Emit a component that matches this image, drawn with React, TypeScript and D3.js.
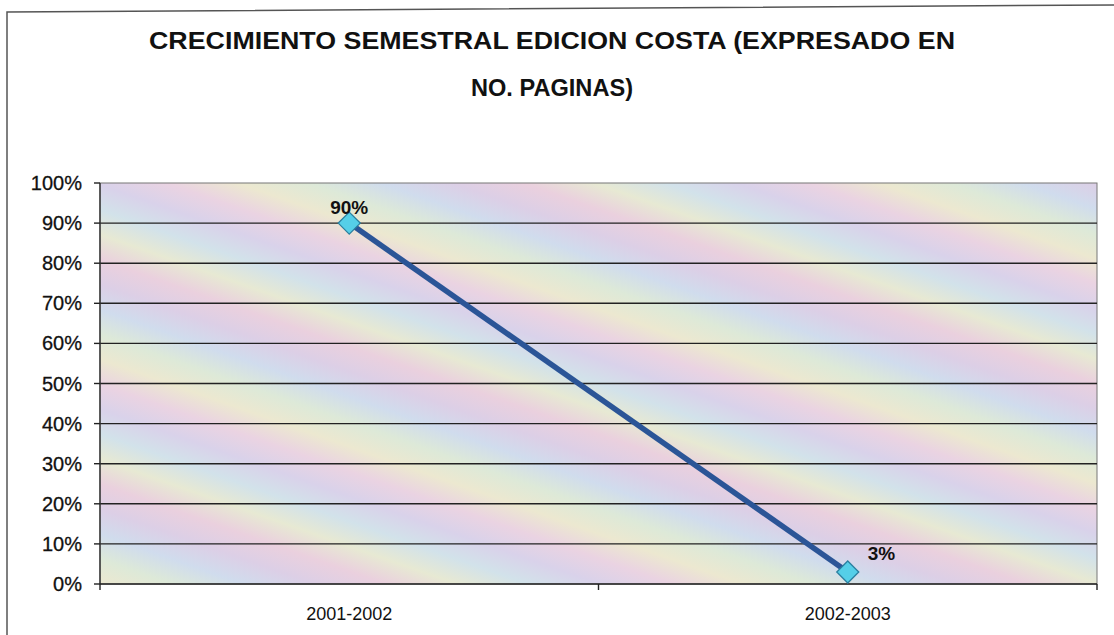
import React from "react";
import * as d3 from "d3";

const categories: string[] = ["2001-2002", "2002-2003"];
const values: number[] = [0.9, 0.03];
const dataLabels: string[] = ["90%", "3%"];
const yTicks: number[] = [0, 0.1, 0.2, 0.3, 0.4, 0.5, 0.6, 0.7, 0.8, 0.9, 1.0];
const titleLines: string[] = ["CRECIMIENTO SEMESTRAL EDICION COSTA (EXPRESADO EN", "NO. PAGINAS)"];

const W = 1114;
const H = 635;
const plot = { left: 100, right: 1097, top: 183, bottom: 584 };

export default function App() {
  const x = d3.scaleBand<string>().domain(categories).range([plot.left, plot.right]);
  const y = d3.scaleLinear().domain([0, 1]).range([plot.bottom, plot.top]);
  const fmt = d3.format(".0%");
  const line = d3
    .line<number>()
    .x((_, i) => (x(categories[i]) as number) + x.bandwidth() / 2)
    .y((d) => y(d));

  const bandStops = [
    "#ead0de", "#dccfe6", "#d0dced", "#dde9d8", "#ece8d0", "#ead3e2", "#d9d2ea", "#d2e2ea", "#e7e9d3", "#ead0de",
  ];

  // label placement: first centred above the point, last to the upper right
  const labelPos = (i: number, cx: number, cy: number) =>
    i === 0 ? { x: cx, y: cy - 9, anchor: "middle" } : { x: cx + 20, y: cy - 12, anchor: "start" };

  return (
    <div style={{ position: "absolute", left: 0, top: 0, margin: 0 }}>
      <svg width={W} height={H} style={{ display: "block", background: "#fff" }} fontFamily="'Liberation Sans', Arial, sans-serif">
        <defs>
          <linearGradient id="bg" gradientUnits="userSpaceOnUse" x1="0" y1="0" x2="-70" y2="200" spreadMethod="repeat">
            {bandStops.map((c, i) => (
              <stop key={i} offset={i / (bandStops.length - 1)} stopColor={c} />
            ))}
          </linearGradient>
        </defs>
        <rect x={0} y={0} width={W} height={H} fill="#fff" />
        {/* outer frame */}
        <path d="M7,635 L7,12 L1114,5" fill="none" stroke="#555" strokeWidth={1.5} />

        {/* title */}
        {titleLines.map((t, i) => (
          <text key={i} x={552} y={49 + i * 47} textAnchor="middle" fontSize={24} fontWeight="bold" fill="#111"
            textLength={i === 0 ? 806 : 162} lengthAdjust="spacingAndGlyphs">
            {t}
          </text>
        ))}

        {/* plot area */}
        <rect x={plot.left} y={plot.top} width={plot.right - plot.left} height={plot.bottom - plot.top} fill="url(#bg)" stroke="#777" strokeWidth={1} />

        {/* gridlines */}
        {yTicks.filter((t) => t > 0 && t < 1).map((t) => (
          <line key={t} x1={plot.left} x2={plot.right} y1={y(t)} y2={y(t)} stroke="#222" strokeWidth={1.4} />
        ))}

        {/* y axis */}
        <line x1={plot.left} x2={plot.left} y1={plot.top} y2={plot.bottom} stroke="#333" strokeWidth={1.4} />
        {yTicks.map((t) => (
          <g key={t}>
            <line x1={plot.left - 6} x2={plot.left} y1={y(t)} y2={y(t)} stroke="#222" strokeWidth={1.4} />
            <text x={82} y={y(t) + 7} textAnchor="end" fontSize={20} fill="#111" stroke="#111" strokeWidth={0.3}>
              {fmt(t)}
            </text>
          </g>
        ))}

        {/* x axis */}
        <line x1={plot.left} x2={plot.right} y1={plot.bottom} y2={plot.bottom} stroke="#222" strokeWidth={1.6} />
        {[plot.left, ...categories.map((c) => (x(c) as number) + x.bandwidth())].map((px, i) => (
          <line key={i} x1={px} x2={px} y1={plot.bottom} y2={plot.bottom + 6} stroke="#222" strokeWidth={1.4} />
        ))}
        {categories.map((c) => (
          <text key={c} x={(x(c) as number) + x.bandwidth() / 2} y={620} textAnchor="middle" fontSize={18} fill="#111">
            {c}
          </text>
        ))}

        {/* series line */}
        <path d={line(values) || ""} fill="none" stroke="#2b5597" strokeWidth={5.5} />
        {values.map((v, i) => {
          const cx = (x(categories[i]) as number) + x.bandwidth() / 2;
          const cy = y(v);
          const s = 11;
          return (
            <path key={i} d={`M${cx},${cy - s} L${cx + s},${cy} L${cx},${cy + s} L${cx - s},${cy} Z`}
              fill="#55cfe8" stroke="#2a7f9f" strokeWidth={1.3} />
          );
        })}

        {/* data labels */}
        {values.map((v, i) => {
          const cx = (x(categories[i]) as number) + x.bandwidth() / 2;
          const cy = y(v);
          const p = labelPos(i, cx, cy);
          return (
            <text key={i} x={p.x} y={p.y} textAnchor={p.anchor} fontSize={19} fontWeight="bold" fill="#111">
              {dataLabels[i]}
            </text>
          );
        })}
      </svg>
    </div>
  );
}
